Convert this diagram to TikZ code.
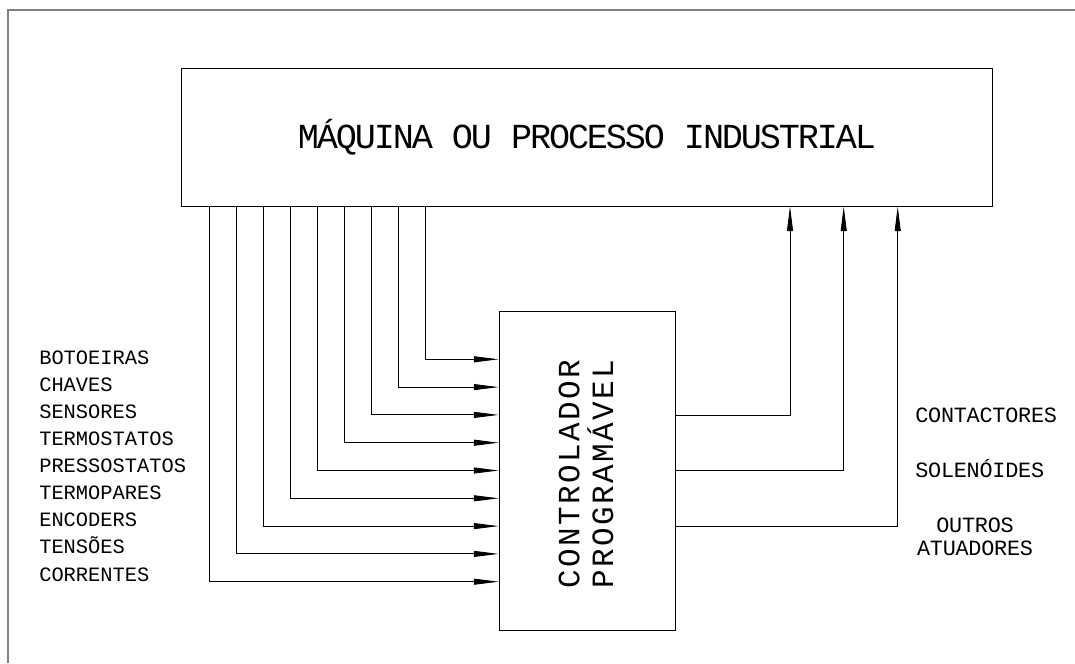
\documentclass[tikz,border=0pt]{standalone}
\usepackage{fontspec}
\usepackage{tikz}
\usetikzlibrary{arrows.meta}
\usetikzlibrary{positioning}
\newfontfamily\cadfont{Liberation Mono}

\begin{document}
\begin{tikzpicture}[
    x=0.025cm, y=-0.025cm,
    box/.style={draw, line width=0.6pt, inner sep=0pt},
    title font/.style={font=\cadfont\fontsize{25}{30}\selectfont\addfontfeature{LetterSpace=-6}},
    clp font/.style={font=\cadfont\fontsize{22}{24.1}\selectfont\addfontfeature{LetterSpace=8}},
    in label/.style={anchor=base west, inner sep=0pt,
      font=\cadfont\fontsize{14.5}{17}\selectfont},
    out label/.style={anchor=base west, inner sep=0pt, align=center,
      font=\cadfont\fontsize{15.5}{16}\selectfont\addfontfeature{LetterSpace=-1}},
    sig/.style={->, line width=0.6pt},
    frame/.style={line width=1.2pt, draw=gray},
  ]
\tikzset{>={Triangle[length=0.62cm, width=0.15cm]}}

  \useasboundingbox (0,0) rectangle (1075,663);
  \draw[frame] (8,663) -- (8,10) -- (1075,10);

  \node[box, title font, minimum width=20.25cm, minimum height=3.45cm] (mq) at (587,137)
    {MÁQUINA OU PROCESSO INDUSTRIAL};
  \node[box, minimum width=4.4cm, minimum height=7.975cm] (clp) at (587,470.5) {};
  \node[clp font, rotate=90, align=center, inner sep=0pt] (clptxt) at (586,474)
    {CONTROLADOR\\PROGRAMÁVEL};

  % entradas
  \foreach \i in {0,...,8} {
    \coordinate (in\i) at ({425.7-27*\i},{359.3+27.8*\i});
    \draw[sig] (mq.south -| in\i) |- (clp.west |- in\i);
  }
  \foreach \txt [count=\i from 0] in {BOTOEIRAS, CHAVES, SENSORES, TERMOSTATOS,
      PRESSOSTATOS, TERMOPARES, ENCODERS, TENSÕES, CORRENTES}
    \node[in label] (lbl\i) at (39,{364.4+27.08*\i}) {\txt};

  % saidas
  \foreach \xx/\yy [count=\j] in {790/415, 843.7/470.7, 897.7/526} {
    \coordinate (out\j) at (\xx,\yy);
    \draw[sig] (clp.east |- out\j) -| (mq.south -| out\j);
  }
  \node[out label] (ct) at (915,422) {CONTACTORES};
  \node[out label] (sol) at (915,477) {SOLENÓIDES};
  \node[out label, anchor=center] (oa) at (975,537) {OUTROS\\ATUADORES};

  \end{tikzpicture}
\end{document}
